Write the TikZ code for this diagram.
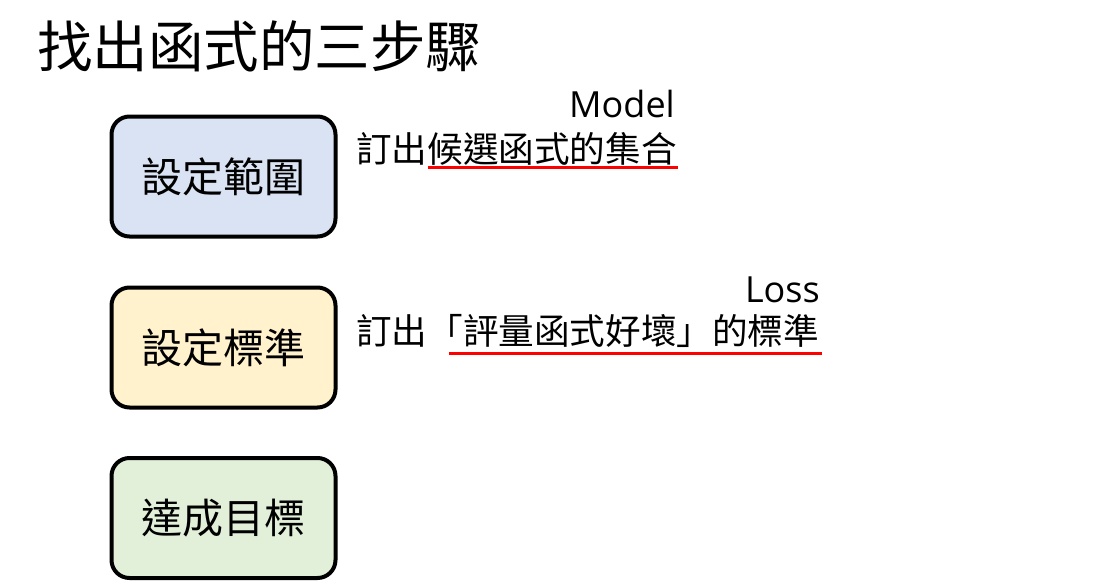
\documentclass[tikz,border=0pt]{standalone}
\usepackage{fontspec}
\newfontfamily\cjk{Noto Sans CJK TC}
\newfontfamily\latin{Open Sans}
\begin{document}
\begin{tikzpicture}[x=1pt,y=-1pt,
  stepbox/.style={draw=black, line width=4pt, rounded corners=18pt,
    minimum width=224pt, minimum height=120pt, inner sep=0pt,
    font=\cjk\fontsize{41}{41}\selectfont},
  desc/.style={anchor=base west, inner sep=0pt, font=\cjk\fontsize{35.6}{36}\selectfont},
  tag/.style={anchor=base east, inner sep=0pt, font=\latin\fontsize{36}{36}\selectfont},
  mark line/.style={draw=red, line width=3pt}]
\useasboundingbox (0,0) rectangle (1120,587);
\definecolor{boxblue}{HTML}{DAE3F3}
\definecolor{boxyellow}{HTML}{FFF2CC}
\definecolor{boxgreen}{HTML}{E2F0D9}

% title
\node[anchor=base west, inner sep=0pt, font=\cjk\fontsize{55.5}{56}\selectfont] (title) at (37,67) {找出函式的三步驟};

% the three steps
\node[stepbox, fill=boxblue]   (s1) at (223.5,176.5) {設定範圍};
\node[stepbox, fill=boxyellow] (s2) at (223.5,347.5) {設定標準};
\node[stepbox, fill=boxgreen]  (s3) at (223.5,518)   {達成目標};

% step descriptions
\node[desc] (d1) at (356,162) {訂出候選函式的集合};
\node[tag]  (m1) at (675,117) {Model};
\draw[mark line] (428,167) -- (678,167);

\node[desc] (d2) at (356,344) {訂出「評量函式好壞」的標準};
\node[tag]  (m2) at (820,302) {Loss};
\draw[mark line] (449,353) -- (822,353);
\end{tikzpicture}
\end{document}
